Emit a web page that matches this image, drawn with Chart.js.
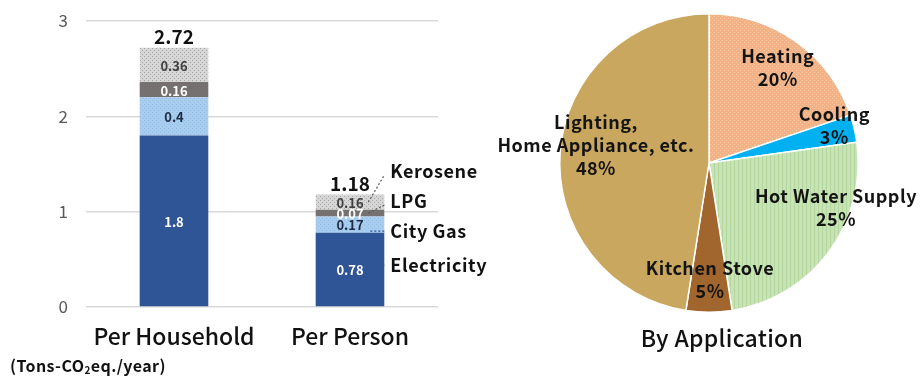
<!DOCTYPE html>
<html>
<head>
<meta charset="utf-8">
<script src="https://cdn.jsdelivr.net/npm/chart.js@4.4.1/dist/chart.umd.min.js"></script>
<style>
  body { margin: 0; background: #fff; width: 920px; height: 376px; overflow: hidden; position: relative; font-family: "Noto Sans CJK JP", "Noto Sans", sans-serif; }
  #barChart { position: absolute; left: 0; top: 0; }
  #pieChart { position: absolute; left: 470px; top: 0; }
  #unit { position: absolute; left: 10px; top: 353px; font-size: 16px; font-weight: bold; color: #111; letter-spacing: 0.4px; }
  #unit sub { font-size: 10px; vertical-align: -2px; }
</style>
</head>
<body>
<canvas id="barChart" width="510" height="376"></canvas>
<canvas id="pieChart" width="450" height="376"></canvas>
<div id="unit">(Tons-CO<sub>2</sub>eq./year)</div>
<script>
// stacked bar data (tons CO2 per year)
const categories = ['Per Household', 'Per Person'];
const sources = ['Electricity', 'City Gas', 'LPG', 'Kerosene'];
const electricity = [1.8, 0.78];
const cityGas = [0.4, 0.17];
const lpg = [0.16, 0.07];
const kerosene = [0.36, 0.16];
const totals = [2.72, 1.18];
const yTicks = [0, 1, 2, 3];

// pie data (share by application, %)
const applications = ['Heating', 'Cooling', 'Hot Water Supply', 'Kitchen Stove', 'Lighting, Home Appliance, etc.'];
const appShares = [20, 3, 25, 5, 48];

const FONT = '"Noto Sans CJK JP", "Noto Sans", sans-serif';

// small tiled pattern: base colour with sparse darker dots / stripes
function makePattern(base, dot, kind) {
    const c = document.createElement('canvas');
    c.width = 4; c.height = 4;
    const g = c.getContext('2d');
    g.fillStyle = base;
    g.fillRect(0, 0, 4, 4);
    g.fillStyle = dot;
    if (kind === 'stripe') {
        g.fillRect(0, 0, 1, 4);
    } else {
        g.fillRect(0, 0, 1, 1);
        g.fillRect(2, 2, 1, 1);
    }
    return document.getElementById('barChart').getContext('2d').createPattern(c, 'repeat');
}

const barColors = [
    '#2F5597',
    makePattern('#A9CDEE', '#93BCE3'),
    '#767171',
    makePattern('#D6D6D6', '#A9A9A9')
];
const valueColors = ['#ffffff', '#1F2A44', '#ffffff', '#404040'];
const leaderColors = ['#2F5597', '#2F5597', '#595959', '#595959'];

const series = [electricity, cityGas, lpg, kerosene];

// segment values, totals and the side captions next to the second bar
const barLabels = {
    id: 'barLabels',
    afterDatasetsDraw(chart) {
        const ctx = chart.ctx;
        ctx.save();
        ctx.textAlign = 'center';
        ctx.textBaseline = 'middle';
        chart.data.datasets.forEach((ds, di) => {
            chart.getDatasetMeta(di).data.forEach((bar, i) => {
                ctx.font = '600 13px ' + FONT;
                ctx.fillStyle = valueColors[di];
                ctx.fillText(String(ds.data[i]), bar.x, (bar.y + bar.base) / 2 + 1);
            });
        });
        // totals above the stacks
        const top = chart.getDatasetMeta(chart.data.datasets.length - 1).data;
        top.forEach((bar, i) => {
            ctx.font = 'bold 19px ' + FONT;
            ctx.fillStyle = '#111';
            ctx.fillText(totals[i].toFixed(2), bar.x, bar.y - 11);
        });
        // captions for the per-person bar
        const shift = [-4, 6.5, -12, -31];
        ctx.textAlign = 'left';
        chart.data.datasets.forEach((ds, di) => {
            const bar = chart.getDatasetMeta(di).data[1];
            const right = bar.x + bar.width / 2;
            const mid = (bar.y + bar.base) / 2;
            const ly = mid + shift[di];
            ctx.setLineDash([2, 2]);
            ctx.lineWidth = 1.2;
            ctx.strokeStyle = leaderColors[di];
            ctx.beginPath();
            if (di < 2) {
                ctx.moveTo(right - 14, ly);
                ctx.lineTo(right + 2, ly);
            } else {
                ctx.moveTo(right - 16, mid);
                ctx.lineTo(right, ly + 4);
            }
            ctx.stroke();
            ctx.setLineDash([]);
            ctx.font = 'bold 18px ' + FONT;
            ctx.letterSpacing = '0.6px';
            ctx.fillStyle = '#111';
            ctx.fillText(ds.label, right + 6, ly);
            ctx.letterSpacing = '0px';
        });
        ctx.restore();
    }
};

new Chart(document.getElementById('barChart'), {
    type: 'bar',
    data: {
        labels: categories,
        datasets: sources.map((name, i) => ({
            label: name,
            data: series[i],
            backgroundColor: barColors[i],
            borderWidth: 0,
            categoryPercentage: 1,
            barPercentage: 0.39
        }))
    },
    options: {
        responsive: false,
        animation: false,
        events: [],
        layout: { padding: { left: 0, top: 21, right: 72, bottom: 0 } },
        plugins: { legend: { display: false }, tooltip: { enabled: false } },
        scales: {
            x: {
                stacked: true,
                grid: { display: false },
                border: { display: false },
                ticks: { color: '#111', font: { family: FONT, size: 23, weight: '500' }, padding: 7 },
                afterFit: s => { s.height = 69; }
            },
            y: {
                stacked: true,
                min: 0,
                max: 3,
                afterBuildTicks: s => { s.ticks = yTicks.map(v => ({ value: v })); },
                ticks: { color: '#595959', font: { family: FONT, size: 17 }, padding: 18 },
                grid: { color: '#D9D9D9', lineWidth: 1.5, drawTicks: false },
                border: { display: false },
                afterFit: s => { s.width = 86; s.paddingTop = 0; s.paddingBottom = 0; }
            }
        }
    },
    plugins: [barLabels]
});

// pie: labels inside / around each slice, plus the caption underneath
const labelLines = [['Heating', '20%'], ['Cooling', '3%'], ['Hot Water Supply', '25%'], ['Kitchen Stove', '5%'], ['Lighting,', 'Home Appliance, etc.', '48%']];
const radialPos = [0.79, 0.87, 0.8, 0.78, 0.76];
const nudge = [[0, 0], [-1, -7], [31, -26], [1, 0], [0, -9]];

const pieLabels = {
    id: 'pieLabels',
    afterDatasetsDraw(chart) {
        const ctx = chart.ctx;
        ctx.save();
        ctx.textAlign = 'center';
        ctx.textBaseline = 'middle';
        ctx.fillStyle = '#141414';
        ctx.font = 'bold 18px ' + FONT;
        ctx.letterSpacing = '0.5px';
        chart.getDatasetMeta(0).data.forEach((arc, i) => {
            const p = arc.getProps(['x', 'y', 'startAngle', 'endAngle', 'outerRadius']);
            const a = (p.startAngle + p.endAngle) / 2;
            const cx = p.x + Math.cos(a) * p.outerRadius * radialPos[i] + nudge[i][0];
            const cy = p.y + Math.sin(a) * p.outerRadius * radialPos[i] + nudge[i][1];
            const lines = labelLines[i];
            const lh = 23;
            lines.forEach((t, k) => {
                ctx.fillText(t, cx, cy + (k - (lines.length - 1) / 2) * lh);
            });
        });
        ctx.font = '500 23px ' + FONT;
        ctx.letterSpacing = '0.3px';
        ctx.fillStyle = '#111';
        ctx.fillText('By Application', 252, 338);
        ctx.restore();
    }
};

new Chart(document.getElementById('pieChart'), {
    type: 'pie',
    data: {
        labels: applications,
        datasets: [{
            data: appShares,
            backgroundColor: [
                makePattern('#F4B183', '#F8C9A6'),
                '#00B0F0',
                makePattern('#C9E3B8', '#B3D69C', 'stripe'),
                '#A0662E',
                '#C9A75E'
            ],
            borderColor: '#ffffff',
            borderWidth: 1.5
        }]
    },
    options: {
        responsive: false,
        animation: false,
        events: [],
        layout: { padding: { left: 89, right: 61, top: 13, bottom: 63 } },
        plugins: { legend: { display: false }, tooltip: { enabled: false } }
    },
    plugins: [pieLabels]
});
</script>
</body>
</html>
